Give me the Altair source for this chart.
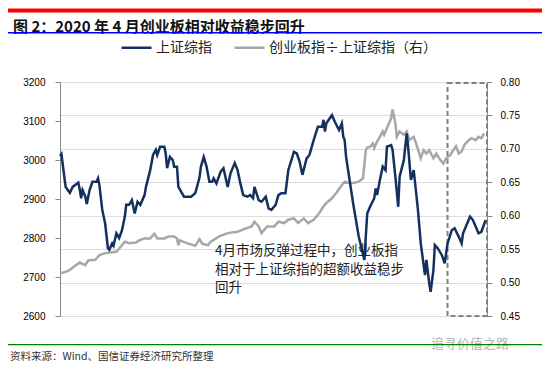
import altair as alt
import pandas as pd

# ---------------- data ----------------
sh_dates = [
    "2019-07-01", "2019-07-02", "2019-07-05", "2019-07-08", "2019-07-10", "2019-07-14", "2019-07-15",
    "2019-07-16", "2019-07-17", "2019-07-19", "2019-07-20", "2019-07-22", "2019-07-24", "2019-07-27",
    "2019-07-28", "2019-07-29", "2019-07-31",
    "2019-08-02", "2019-08-04", "2019-08-05", "2019-08-07", "2019-08-08", "2019-08-10", "2019-08-12",
    "2019-08-14", "2019-08-16", "2019-08-17", "2019-08-19", "2019-08-21", "2019-08-22", "2019-08-23",
    "2019-08-25", "2019-08-27", "2019-08-30", "2019-08-31",
    "2019-09-03", "2019-09-05", "2019-09-07", "2019-09-08", "2019-09-10", "2019-09-13", "2019-09-14",
    "2019-09-15", "2019-09-17", "2019-09-19", "2019-09-20", "2019-09-22", "2019-09-23", "2019-09-27",
    "2019-10-02", "2019-10-05", "2019-10-08", "2019-10-09", "2019-10-11", "2019-10-13", "2019-10-15",
    "2019-10-17", "2019-10-18", "2019-10-20", "2019-10-23", "2019-10-25", "2019-10-28", "2019-10-30",
    "2019-11-02", "2019-11-04", "2019-11-06", "2019-11-08", "2019-11-11", "2019-11-13", "2019-11-15",
    "2019-11-16", "2019-11-19", "2019-11-21", "2019-11-24", "2019-11-26", "2019-11-28",
    "2019-12-01", "2019-12-03", "2019-12-05", "2019-12-08", "2019-12-10", "2019-12-14", "2019-12-16",
    "2019-12-18", "2019-12-20", "2019-12-23", "2019-12-25", "2019-12-28", "2019-12-31",
    "2020-01-03", "2020-01-04", "2020-01-05", "2020-01-06", "2020-01-10", "2020-01-12", "2020-01-15",
    "2020-01-17", "2020-01-18", "2020-01-19", "2020-01-20", "2020-01-25", "2020-01-29",
    "2020-02-02", "2020-02-04", "2020-02-06", "2020-02-09", "2020-02-10", "2020-02-11", "2020-02-13",
    "2020-02-15", "2020-02-17", "2020-02-18", "2020-02-21", "2020-02-22", "2020-02-24", "2020-02-26",
    "2020-02-27",
    "2020-03-01", "2020-03-03", "2020-03-04", "2020-03-06", "2020-03-08", "2020-03-09", "2020-03-11",
    "2020-03-13", "2020-03-16", "2020-03-17", "2020-03-19", "2020-03-20", "2020-03-22", "2020-03-23",
    "2020-03-25", "2020-03-28", "2020-03-30",
    "2020-04-01", "2020-04-04", "2020-04-06", "2020-04-09", "2020-04-11", "2020-04-12", "2020-04-15",
    "2020-04-17", "2020-04-19", "2020-04-21", "2020-04-23", "2020-04-25", "2020-04-28",
]
sh_values = [
    3010, 3015, 2931, 2916, 2931, 2942, 2925,
    2902, 2923, 2906, 2887, 2923, 2944, 2944,
    2953, 2935, 2872,
    2838, 2774, 2770, 2786, 2780, 2812, 2800,
    2820, 2855, 2885, 2885, 2897, 2880, 2863,
    2893, 2885, 2910, 2931,
    2974, 3013, 3026, 3013, 3034, 3034, 3017,
    2979, 3008, 3000, 2983, 2983, 2931, 2906,
    2906, 2915, 2955, 2983, 3008, 2983, 2944,
    2944, 2953, 2940, 2970, 2979, 2931, 2966,
    2992, 2974, 2940, 2910, 2906, 2910, 2902,
    2931, 2897, 2893, 2906, 2876, 2872,
    2885, 2910, 2915, 2915, 2974, 3021, 3017,
    2996, 2962, 3004, 3013, 3051, 3085,
    3085, 3103, 3073, 3094, 3115, 3098, 3077,
    3094, 3060, 3051, 3008, 2889, 2803,
    2744, 2863, 2880, 2902, 2927, 2910, 2949,
    2983, 2974, 3034, 3038, 3026, 2957, 2880,
    2957,
    3000, 3068, 3034, 2949, 2974, 2940, 2872,
    2786, 2705, 2744, 2684, 2662, 2718, 2782,
    2774, 2756, 2735,
    2786, 2820, 2825, 2803, 2786, 2812, 2838,
    2855, 2846, 2829, 2812, 2816, 2846,
]

ratio_dates = [
    "2019-07-01", "2019-07-05", "2019-07-08", "2019-07-11", "2019-07-15", "2019-07-19", "2019-07-21",
    "2019-07-26", "2019-07-29",
    "2019-08-02", "2019-08-05", "2019-08-10", "2019-08-12", "2019-08-16", "2019-08-19", "2019-08-24",
    "2019-08-26", "2019-08-30",
    "2019-09-03", "2019-09-06", "2019-09-08", "2019-09-13", "2019-09-16", "2019-09-20", "2019-09-22",
    "2019-09-23", "2019-09-24", "2019-09-29",
    "2019-10-05", "2019-10-08", "2019-10-10", "2019-10-14", "2019-10-16", "2019-10-22", "2019-10-28",
    "2019-11-04", "2019-11-10", "2019-11-14", "2019-11-16", "2019-11-19", "2019-11-21", "2019-11-25",
    "2019-11-30",
    "2019-12-03", "2019-12-07", "2019-12-10", "2019-12-14", "2019-12-17", "2019-12-21", "2019-12-24",
    "2019-12-28",
    "2020-01-01", "2020-01-04", "2020-01-06", "2020-01-10", "2020-01-13", "2020-01-17", "2020-01-19",
    "2020-01-22", "2020-01-25", "2020-01-29",
    "2020-02-01", "2020-02-03", "2020-02-04", "2020-02-06", "2020-02-08", "2020-02-09", "2020-02-11",
    "2020-02-13", "2020-02-15", "2020-02-16", "2020-02-19", "2020-02-21", "2020-02-22", "2020-02-24",
    "2020-02-25", "2020-02-27",
    "2020-03-01", "2020-03-03", "2020-03-05", "2020-03-08", "2020-03-10", "2020-03-13", "2020-03-15",
    "2020-03-17", "2020-03-19", "2020-03-22", "2020-03-24", "2020-03-26", "2020-03-29", "2020-03-31",
    "2020-04-03", "2020-04-05", "2020-04-07", "2020-04-09", "2020-04-11", "2020-04-13", "2020-04-16",
    "2020-04-18", "2020-04-21", "2020-04-23", "2020-04-25", "2020-04-27",
]
ratio_values = [
    0.514, 0.516, 0.519, 0.524, 0.530, 0.526, 0.533,
    0.534, 0.541,
    0.544, 0.545, 0.546, 0.551, 0.561, 0.559, 0.560,
    0.563, 0.566,
    0.566, 0.573, 0.566, 0.566, 0.569, 0.569, 0.566,
    0.556, 0.563, 0.559,
    0.555, 0.565, 0.558, 0.556, 0.561, 0.569, 0.574,
    0.576, 0.581, 0.584, 0.591, 0.584, 0.574, 0.584,
    0.584,
    0.591, 0.589, 0.594, 0.596, 0.589, 0.596, 0.589,
    0.594,
    0.604, 0.614, 0.619, 0.626, 0.634, 0.646, 0.651,
    0.649, 0.649, 0.651,
    0.656, 0.698, 0.702, 0.703, 0.708, 0.701, 0.711,
    0.718, 0.726, 0.721, 0.736, 0.746, 0.759, 0.738,
    0.718, 0.726,
    0.721, 0.726, 0.713, 0.718, 0.706, 0.686, 0.698,
    0.693, 0.698, 0.686, 0.693, 0.686, 0.678, 0.686,
    0.691, 0.698, 0.704, 0.693, 0.696, 0.706, 0.713,
    0.716, 0.713, 0.718, 0.716, 0.723,
]

series_names = ["上证综指", "创业板指÷上证综指（右）"]
series_colors = ["#13305f", "#a5a8ab"]

month_ticks = [(2019, m) for m in range(7, 13)] + [(2020, m) for m in range(1, 5)]
left_ticks = [2600, 2700, 2800, 2900, 3000, 3100, 3200]
right_ticks = [0.45, 0.50, 0.55, 0.60, 0.65, 0.70, 0.75, 0.80]

title_text = "图 2：2020 年 4 月创业板相对收益稳步回升"
source_text = "资料来源：Wind、国信证券经济研究所整理"
watermark_text = "追寻价值之路"
note_lines = ["4月市场反弹过程中，创业板指", "相对于上证综指的超额收益稳步", "回升"]
note_values = [2766, 2718.5, 2671]
note_date = "2019-10-19"
box_start = "2020-04-01"

# ---------------- chart ----------------
df_sh = pd.DataFrame({"date": sh_dates, "value": sh_values, "series": series_names[0]})
df_ratio = pd.DataFrame({"date": ratio_dates, "value": ratio_values, "series": series_names[1]})

W, H = 427, 234
FONT_NUM = "Liberation Sans"
FONT_CJK = "Noto Sans CJK SC"

x_dom = [alt.DateTime(year=2019, month=7, date=1, utc=True),
         alt.DateTime(year=2020, month=4, date=29, utc=True)]
x_scale = alt.Scale(type="utc", domain=x_dom)
x_axis = alt.Axis(
    values=[alt.DateTime(year=y, month=m, date=1, utc=True) for y, m in month_ticks],
    format="%y-%m", formatType="utc", labelFlush=False, labelOverlap=False,
    tickSize=5, labelPadding=3, title=None,
)
X = alt.X("date:T", scale=x_scale, axis=x_axis)

color = alt.Color(
    "series:N",
    scale=alt.Scale(domain=series_names, range=series_colors),
    legend=alt.Legend(
        orient="none", legendX=60, legendY=-51, direction="horizontal", title=None,
        symbolType="stroke", symbolSize=900, symbolStrokeWidth=2.5,
        labelFont=FONT_CJK, labelFontSize=14, labelColor="#222222", labelLimit=0,
        labelOffset=3, columnPadding=17, padding=0,
    ),
)

ratio_line = alt.Chart(df_ratio).mark_line(strokeWidth=2.5).encode(
    x=X,
    y=alt.Y("value:Q", scale=alt.Scale(domain=[0.45, 0.80], zero=False, nice=False),
            axis=alt.Axis(orient="right", values=right_ticks, format=".2f", tickSize=5,
                          labelPadding=8, title=None)),
    color=color,
)

sh_line = alt.Chart(df_sh).mark_line(strokeWidth=2.5).encode(
    x=X,
    y=alt.Y("value:Q", scale=alt.Scale(domain=[2600, 3200], zero=False, nice=False),
            axis=alt.Axis(orient="left", values=left_ticks, format="d", tickSize=5,
                          labelPadding=10, title=None)),
    color=color,
)

box = alt.Chart(pd.DataFrame({"start": [box_start], "end": ["2020-04-29"]})).mark_rect(
    fillOpacity=0, stroke="#808080", strokeWidth=2, strokeDash=[5, 3]
).encode(
    x=alt.X("start:T", scale=x_scale, axis=None),
    x2="end:T",
    y=alt.value(1),
    y2=alt.value(H),
)

df_note = pd.DataFrame({"date": [note_date] * 3, "value": note_values, "text": note_lines})
note = alt.Chart(df_note).mark_text(
    align="left", baseline="middle", fontSize=13.5, font=FONT_CJK, color="#222222",
).encode(
    x=alt.X("date:T", scale=x_scale, axis=None),
    y=alt.Y("value:Q", scale=alt.Scale(domain=[2600, 3200], zero=False, nice=False), axis=None),
    text="text:N",
)

one = pd.DataFrame({"k": [0]})


def hline(y, thickness, col):
    return alt.Chart(pd.DataFrame({"r": [y]})).mark_rect(fill=col, fillOpacity=1).encode(
        x=alt.value(-52), x2=alt.value(482), y=alt.value(y), y2=alt.value(y + thickness))


top_rule = hline(-73.5, 4, "red")
title_rule = hline(-50, 1.5, "blue")
foot_rule = hline(262, 1.3, "green")

title = alt.Chart(one).mark_text(
    text=title_text, align="left", baseline="middle", font=FONT_CJK, fontSize=15,
    fontWeight="bold", color="#111111",
).encode(x=alt.value(-47), y=alt.value(-55.5))
source = alt.Chart(one).mark_text(
    text=source_text, align="left", baseline="middle", font=FONT_CJK, fontSize=10.5,
    color="#333333",
).encode(x=alt.value(-50), y=alt.value(275))
watermark = alt.Chart(one).mark_text(
    text=watermark_text, align="center", baseline="middle", font=FONT_CJK, fontSize=13,
    color="#b5b5b5",
).encode(x=alt.value(410), y=alt.value(262))

chart = alt.layer(
    box, ratio_line, sh_line, note, title, watermark, source, top_rule, title_rule, foot_rule
).resolve_scale(y="independent").properties(
    width=W, height=H,
    autosize=alt.AutoSizeParams(type="none"),
    padding={"left": 52, "top": 74, "right": 55, "bottom": 46},
).configure_view(stroke=None).configure_axis(
    grid=False, domainColor="#808080", tickColor="#808080", domainWidth=1, tickWidth=1,
    labelFont=FONT_NUM, labelFontSize=13, labelColor="#1a1a1a",
).configure(background="white")

chart.save("out.html", embed_options={"renderer": "svg", "actions": False})
